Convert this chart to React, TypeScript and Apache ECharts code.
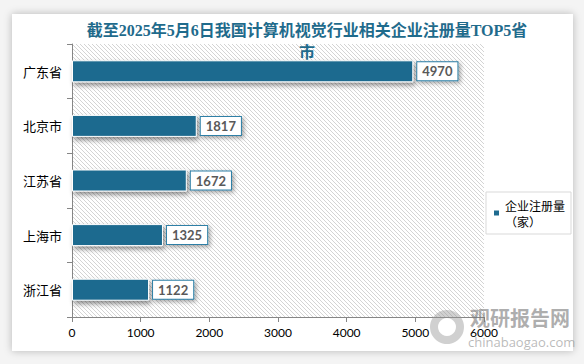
import React, { useEffect, useRef } from "react";
import * as echarts from "echarts";

const categories = ["广东省", "北京市", "江苏省", "上海市", "浙江省"];
const values = [4970, 1817, 1672, 1325, 1122];
const seriesName = "企业注册量（家）";
const titleText = "截至2025年5月6日我国计算机视觉行业相关企业注册量TOP5省\n市";

function makeHatch() {
  const c = document.createElement("canvas");
  c.width = 4;
  c.height = 4;
  const ctx = c.getContext("2d")!;
  ctx.fillStyle = "#ffffff";
  ctx.fillRect(0, 0, 4, 4);
  ctx.strokeStyle = "#d4d4d4";
  ctx.lineWidth = 1;
  ctx.beginPath();
  ctx.moveTo(-1, -1);
  ctx.lineTo(5, 5);
  ctx.moveTo(-1, 3);
  ctx.lineTo(1, 5);
  ctx.moveTo(3, -1);
  ctx.lineTo(5, 1);
  ctx.stroke();
  return c;
}

export default function App() {
  const ref = useRef<HTMLDivElement>(null);
  useEffect(() => {
    document.body.style.margin = "0";
    const chart = echarts.init(ref.current!, null, { renderer: "svg" });
    const main = "#1e6b8f";
    chart.setOption({
      animation: false,
      backgroundColor: "transparent",
      title: {
        text: titleText,
        left: 302,
        textAlign: "center",
        top: 14,
        textStyle: {
          fontFamily: "'Liberation Serif', 'Noto Sans CJK SC'",
          fontWeight: "bold",
          fontSize: 16,
          color: "#1f6b8c",
          lineHeight: 22,
        },
      },
      grid: {
        left: 72,
        right: 100,
        top: 44,
        bottom: 47,
        show: true,
        borderWidth: 0,
        backgroundColor: { image: makeHatch(), repeat: "repeat" },
      },
      legend: {
        orient: "vertical",
        left: 486,
        top: 192,
        data: [seriesName],
        itemWidth: 7,
        itemHeight: 7,
        icon: "rect",
        borderColor: "#d9d9d9",
        borderWidth: 1,
        padding: [5, 6, 5, 6],
        formatter: () => "企业注册量\n（家）",
        textStyle: {
          fontFamily: "'Noto Sans CJK SC'",
          fontSize: 12,
          color: "#000",
          lineHeight: 16,
        },
      },
      xAxis: {
        type: "value",
        min: 0,
        max: 6000,
        interval: 1000,
        splitLine: { show: false },
        axisLine: { show: true, lineStyle: { color: "#868686" } },
        axisTick: { show: true, length: 5, lineStyle: { color: "#868686" } },
        axisLabel: {
          color: "#000",
          fontSize: 12,
          fontFamily: "Lato, 'Open Sans'",
          margin: 9,
          formatter: (v: number) => String(v),
        },
      },
      yAxis: {
        type: "category",
        data: categories,
        inverse: true,
        axisLine: { show: true, lineStyle: { color: "#868686" } },
        axisTick: { show: true, inside: false, length: 5, lineStyle: { color: "#868686" } },
        axisLabel: {
          color: "#000",
          fontSize: 13,
          fontFamily: "'Noto Sans CJK SC'",
          margin: 10,
        },
      },
      series: [
        {
          name: seriesName,
          type: "bar",
          data: values,
          barWidth: 22,
          itemStyle: {
            color: main,
            borderColor: "#ffffff",
            borderWidth: 1,
            shadowColor: "rgba(0,0,0,0.45)",
            shadowBlur: 5,
            shadowOffsetX: 2,
            shadowOffsetY: 3,
          },
          label: {
            show: true,
            position: "right",
            distance: 4,
            color: "#595959",
            fontWeight: "bold",
            fontSize: 13,
            fontFamily: "Lato, 'Open Sans'",
            backgroundColor: "#ffffff",
            borderColor: "#2d7fa6",
            borderWidth: 1,
            padding: [3, 5, 2, 5],
            shadowColor: "rgba(0,0,0,0.35)",
            shadowBlur: 4,
            shadowOffsetX: 2,
            shadowOffsetY: 2,
          },
        },
      ],
      graphic: [
        {
          type: "ring",
          shape: { cx: 447, cy: 327, r: 17, r0: 9 },
          style: { fill: "rgba(150,150,150,0.45)" },
          z: 100,
        },
        {
          type: "text",
          x: 470,
          y: 307,
          style: {
            text: "观研报告网",
            fontSize: 20,
            fontWeight: "bold",
            fontFamily: "'Noto Sans CJK SC'",
            fill: "rgba(120,120,120,0.6)",
          },
          z: 100,
        },
        {
          type: "text",
          x: 468,
          y: 335,
          style: {
            text: "chinabaogao.com",
            fontSize: 13,
            fontFamily: "'Open Sans'",
            fill: "rgba(140,140,140,0.6)",
          },
          z: 100,
        },
      ],
    });
    return () => chart.dispose();
  }, []);
  return (
    <div
      style={{
        position: "absolute",
        left: 0,
        top: 0,
        width: 584,
        height: 364,
        background: "#f4f4f4",
      }}
    >
      <div
        style={{
          position: "absolute",
          left: 12,
          top: 14,
          width: 561,
          height: 337,
          background: "#fff",
          boxShadow: "0 0 8px rgba(0,0,0,0.25)",
        }}
      />
      <div ref={ref} style={{ position: "absolute", left: 0, top: 0, width: 584, height: 364 }} />
    </div>
  );
}
